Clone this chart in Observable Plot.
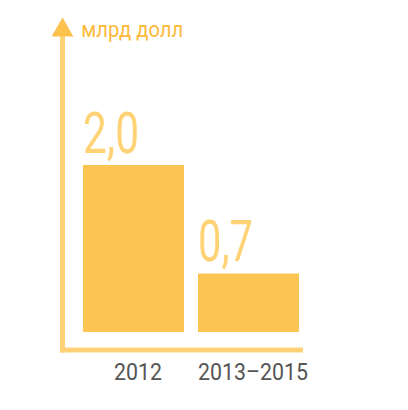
<!DOCTYPE html>
<html>
<head>
<meta charset="utf-8">
<script src="https://cdn.jsdelivr.net/npm/d3@7"></script>
<script src="https://cdn.jsdelivr.net/npm/@observablehq/plot@0.6"></script>
<style>
  html, body { margin: 0; padding: 0; background: #fff; }
  #chart svg { display: block; }
</style>
</head>
<body>
<div id="chart"></div>
<script>
// Data
const categories = ["2012", "2013–2015"];
const values = [2.0, 0.7];
const unitLabel = "млрд долл";

const data = categories.map((c, i) => ({cat: c, val: values[i]}));

// Styles
const barColor = "#FCC450";
const axisColor = "#FFD27A";
const arrowColor = "#FDC24B";
const valueColor = "#FFD375";
const unitColor = "#FDBA3A";
const tickColor = "#555555";
const textWidths = {"млрд долл": 102, "2,0": 56, "0,7": 55, "2012": 48, "2013–2015": 110};

const fmt = v => v.toFixed(1).replace(".", ",");

const chart = Plot.plot({
  width: 408,
  height: 410,
  marginLeft: 62,
  marginRight: 108,
  marginTop: 36,
  marginBottom: 60.5,
  style: {fontFamily: "Roboto, 'DejaVu Sans', sans-serif", background: "#fff"},
  x: {domain: categories, paddingInner: 0.12, paddingOuter: 0, insetLeft: 20, axis: null},
  y: {domain: [0, 2], insetTop: 129, insetBottom: 17.5, axis: null},
  marks: [
    Plot.barY(data, {x: "cat", y: "val", fill: barColor}),
    Plot.frame({anchor: "left", stroke: axisColor, strokeWidth: 5}),
    Plot.frame({anchor: "bottom", stroke: axisColor, strokeWidth: 5, strokeLinecap: "square"}),
    Plot.dot({length: 1}, {frameAnchor: "top-left", symbol: "triangle", r: 8.1, dy: -6.3, fill: arrowColor}),
    Plot.text([unitLabel], {frameAnchor: "top-left", text: d => d, dx: 18.7, textAnchor: "start", lineAnchor: "bottom", fontSize: 22.5, fill: unitColor}),
    Plot.text(data, {x: "cat", y: "val", text: d => fmt(d.val), textAnchor: "start", dx: -51, dy: -13, lineAnchor: "bottom", fontSize: 58, fontWeight: 400, fill: valueColor}),
    Plot.text(data, {x: "cat", text: "cat", frameAnchor: "bottom", dx: 4, dy: 29.5, lineAnchor: "bottom", fontSize: 24, fill: tickColor})
  ]
});

d3.select(chart).selectAll("text").each(function() {
  const t = this.textContent;
  if (textWidths[t]) {
    this.setAttribute("textLength", textWidths[t]);
    this.setAttribute("lengthAdjust", "spacingAndGlyphs");
  }
});

document.getElementById("chart").appendChild(chart);
</script>
</body>
</html>
